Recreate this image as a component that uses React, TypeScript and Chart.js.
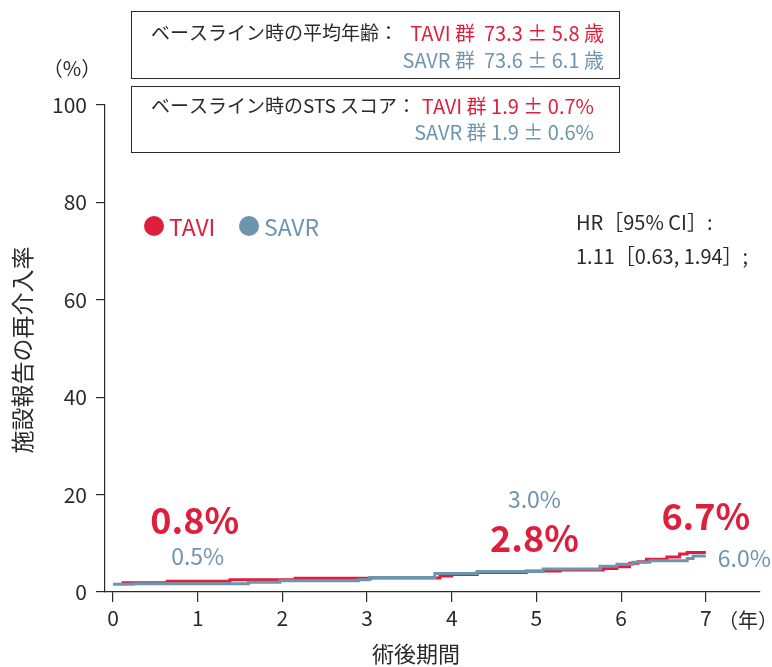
import React, { useEffect, useRef } from "react";
import { Chart, registerables } from "chart.js";

Chart.register(...registerables);

const TAVI_X = [0.1, 0.64, 1.38, 2.15, 3.05, 3.86, 4.0, 4.3, 4.88, 5.28, 5.79, 5.95, 6.1, 6.2, 6.3, 6.54, 6.69, 6.78, 7.0];
const TAVI_Y = [1.9, 2.2, 2.5, 2.8, 2.9, 3.3, 3.6, 4.0, 4.3, 4.5, 4.8, 5.2, 5.9, 6.2, 6.7, 7.2, 7.8, 8.1, 8.1];
const SAVR_X = [0.0, 0.24, 1.6, 1.97, 2.9, 3.03, 3.8, 4.3, 5.08, 5.75, 5.95, 6.14, 6.34, 6.78, 6.85, 7.0];
const SAVR_Y = [1.6, 1.7, 2.0, 2.3, 2.5, 3.0, 3.8, 4.2, 4.7, 5.3, 5.7, 6.1, 6.4, 6.9, 7.4, 7.4];

const X_TICKS = [0, 1, 2, 3, 4, 5, 6, 7];
const Y_TICKS = [0, 20, 40, 60, 80, 100];

const RATE_LABELS = [
  { year: 1, tavi: "0.8%", savr: "0.5%" },
  { year: 5, tavi: "2.8%", savr: "3.0%" },
  { year: 7, tavi: "6.7%", savr: "6.0%" },
];

const RED = "#df1e3c";
const BLUE = "#6e95ae";
const DARK = "#2a2a2a";
const FONT = "'Noto Sans CJK JP', 'Noto Sans', sans-serif";

const textPlugin = {
  id: "texts",
  afterDraw(chart: any) {
    const ctx: CanvasRenderingContext2D = chart.ctx;
    const xs = chart.scales.x;
    ctx.save();
    ctx.textBaseline = "middle";

    // boxes
    ctx.strokeStyle = DARK;
    ctx.lineWidth = 1;
    ctx.strokeRect(131.5, 11.5, 488, 67);
    ctx.strokeRect(131.5, 86.5, 488, 66);

    const darkFont = `19px ${FONT}`;
    const colFont = `20px ${FONT}`;
    ctx.font = darkFont;
    ctx.textAlign = "left";
    ctx.fillStyle = DARK;
    ctx.fillText("ベースライン時の平均年齢：", 151, 33);
    ctx.font = colFont;
    ctx.textAlign = "right";
    ctx.fillStyle = RED;
    ctx.fillText("TAVI 群  73.3 ± 5.8 歳", 604, 33);
    ctx.fillStyle = BLUE;
    ctx.fillText("SAVR 群  73.6 ± 6.1 歳", 604, 60);

    ctx.font = darkFont;
    ctx.textAlign = "left";
    ctx.fillStyle = DARK;
    ctx.fillText("ベースライン時のSTS スコア：", 151, 106);
    ctx.font = colFont;
    ctx.textAlign = "right";
    ctx.fillStyle = RED;
    ctx.fillText("TAVI 群 1.9 ± 0.7%", 594, 106);
    ctx.fillStyle = BLUE;
    ctx.fillText("SAVR 群 1.9 ± 0.6%", 594, 132);

    // legend
    ctx.fillStyle = RED;
    ctx.beginPath();
    ctx.arc(154, 226, 10, 0, Math.PI * 2);
    ctx.fill();
    ctx.fillStyle = BLUE;
    ctx.beginPath();
    ctx.arc(249, 226, 10, 0, Math.PI * 2);
    ctx.fill();
    ctx.font = `23px ${FONT}`;
    ctx.textAlign = "left";
    ctx.fillStyle = RED;
    ctx.fillText("TAVI", 169, 227);
    ctx.fillStyle = BLUE;
    ctx.fillText("SAVR", 264, 227);

    // HR
    ctx.font = `20px ${FONT}`;
    ctx.fillStyle = DARK;
    ctx.fillText("HR［95% CI］:", 576, 222);
    ctx.fillText("1.11［0.63, 1.94］;", 576, 256);

    // axis units / titles
    ctx.font = `20px ${FONT}`;
    ctx.textAlign = "center";
    ctx.fillText("（%）", 72, 68);
    ctx.fillText("（年）", 748, 620);
    ctx.font = `22px ${FONT}`;
    ctx.fillText("術後期間", 416, 654);
    ctx.save();
    ctx.translate(22, 350);
    ctx.rotate(-Math.PI / 2);
    ctx.font = `23px ${FONT}`;
    ctx.fillText("施設報告の再介入率", 0, 0);
    ctx.restore();

    // rate annotations
    const bold = `bold 36px ${FONT}`;
    const reg = `23px ${FONT}`;
    const p1 = xs.getPixelForValue(RATE_LABELS[0].year);
    ctx.textAlign = "center";
    ctx.font = bold; ctx.fillStyle = RED;
    ctx.fillText(RATE_LABELS[0].tavi, p1 - 3, 520);
    ctx.font = reg; ctx.fillStyle = BLUE;
    ctx.fillText(RATE_LABELS[0].savr, p1, 556);

    const p5 = xs.getPixelForValue(RATE_LABELS[1].year);
    ctx.font = reg; ctx.fillStyle = BLUE;
    ctx.fillText(RATE_LABELS[1].savr, p5 - 2, 499);
    ctx.font = bold; ctx.fillStyle = RED;
    ctx.fillText(RATE_LABELS[1].tavi, p5 - 2, 538);

    const p7 = xs.getPixelForValue(RATE_LABELS[2].year);
    ctx.font = bold; ctx.fillStyle = RED;
    ctx.fillText(RATE_LABELS[2].tavi, p7, 516);
    ctx.font = reg; ctx.fillStyle = BLUE;
    ctx.textAlign = "left";
    ctx.fillText(RATE_LABELS[2].savr, p7 + 12, 558);

    ctx.restore();
  },
};

export default function App() {
  const ref = useRef<HTMLCanvasElement>(null);
  useEffect(() => {
    if (!ref.current) return;
    const chart = new Chart(ref.current, {
      type: "line",
      data: {
        datasets: [
          {
            label: "TAVI",
            data: TAVI_X.map((x, i) => ({ x, y: TAVI_Y[i] })),
            borderColor: RED,
            borderWidth: 3,
            stepped: true,
            pointRadius: 0,
            fill: false,
            order: 1,
          },
          {
            label: "SAVR",
            data: SAVR_X.map((x, i) => ({ x, y: SAVR_Y[i] })),
            borderColor: BLUE,
            borderWidth: 3,
            stepped: true,
            pointRadius: 0,
            fill: false,
            order: 0,
          },
        ],
      },
      options: {
        responsive: false,
        animation: false,
        layout: { padding: { top: 105, right: 12, left: 0, bottom: 0 } },
        plugins: { legend: { display: false }, tooltip: { enabled: false } },
        scales: {
          x: {
            type: "linear",
            min: -0.095,
            max: 7.64,
            afterBuildTicks: (s: any) => { s.ticks = X_TICKS.map((v) => ({ value: v })); },
            afterFit: (s: any) => { s.height = 75; },
            ticks: { color: DARK, font: { family: FONT, size: 21 }, padding: 3, maxRotation: 0, autoSkip: false },
            grid: { drawOnChartArea: false, drawTicks: true, tickLength: 10, color: DARK, lineWidth: 1.2 },
            border: { display: true, color: DARK, width: 1.2 },
          },
          y: {
            type: "linear",
            min: 0,
            max: 100,
            afterBuildTicks: (s: any) => { s.ticks = Y_TICKS.map((v) => ({ value: v })); },
            afterFit: (s: any) => { s.width = 105; },
            ticks: { color: DARK, font: { family: FONT, size: 21 }, padding: 9 },
            grid: { drawOnChartArea: false, drawTicks: true, tickLength: 9, color: DARK, lineWidth: 1.2 },
            border: { display: true, color: DARK, width: 1.2 },
          },
        },
      },
      plugins: [textPlugin],
    });
    return () => chart.destroy();
  }, []);
  return (
    <div style={{ position: "absolute", left: 0, top: 0, width: 772, height: 667, background: "#fff" }}>
      <canvas ref={ref} width={772} height={667} style={{ display: "block" }} />
    </div>
  );
}
